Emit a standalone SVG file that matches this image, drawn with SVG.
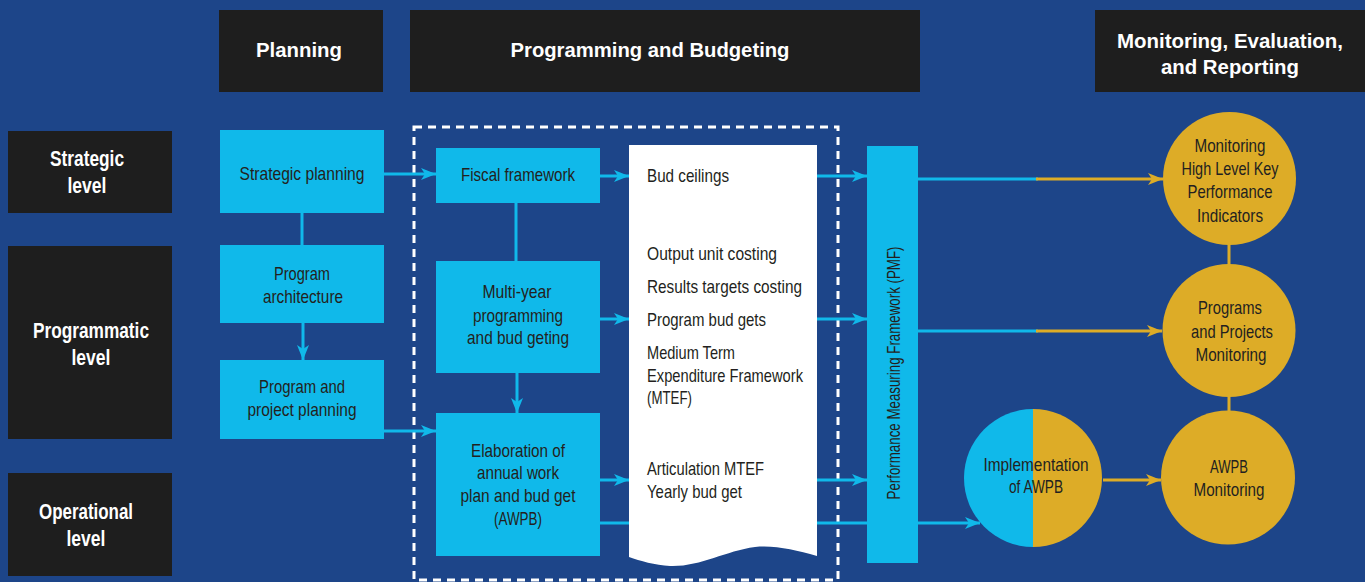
<svg xmlns="http://www.w3.org/2000/svg" width="1365" height="582" viewBox="0 0 1365 582">
<style>
.bg{fill:#1d4589}
.blk{fill:#1e1e1e}
.cy{fill:#10b9ea}
.gd{fill:#ddac27}
.t{font-family:"Liberation Sans",Arial,sans-serif;font-size:18.5px;fill:#231f20;text-anchor:middle}
.tl{font-family:"Liberation Sans",Arial,sans-serif;font-size:18.5px;fill:#231f20}
.h{font-family:"Liberation Sans",Arial,sans-serif;font-size:21px;font-weight:bold;fill:#ffffff;text-anchor:middle}
.lv{font-family:"Liberation Sans",Arial,sans-serif;font-size:21.5px;font-weight:bold;fill:#ffffff;text-anchor:middle}
.lc{stroke:#10b9ea;stroke-width:3;fill:none}
.lg{stroke:#ddac27;stroke-width:3;fill:none}
</style>
<defs>
<marker id="ac" markerUnits="userSpaceOnUse" markerWidth="16" markerHeight="12" refX="15" refY="6" orient="auto">
<path d="M0,0 L15,6 L0,12 L4,6 Z" fill="#10b9ea"/>
</marker>
<marker id="ag" markerUnits="userSpaceOnUse" markerWidth="16" markerHeight="12" refX="15" refY="6" orient="auto">
<path d="M0,0 L15,6 L0,12 L4,6 Z" fill="#ddac27"/>
</marker>
</defs>
<rect class="bg" x="0" y="0" width="1365" height="582"/>

<!-- headers -->
<g id="hdr-planning"><rect class="blk" x="219" y="10" width="164" height="82"/><text class="h" x="299" y="57" textLength="86" lengthAdjust="spacingAndGlyphs">Planning</text></g>
<g id="hdr-programming"><rect class="blk" x="410" y="10" width="510" height="82"/><text class="h" x="650" y="57" textLength="279" lengthAdjust="spacingAndGlyphs">Programming and Budgeting</text></g>
<g id="hdr-monitoring"><rect class="blk" x="1095" y="10" width="270" height="82"/><text class="h" x="1230" y="48" textLength="226" lengthAdjust="spacingAndGlyphs">Monitoring, Evaluation,</text><text class="h" x="1230" y="74" textLength="138" lengthAdjust="spacingAndGlyphs">and Reporting</text></g>

<!-- levels -->
<g id="lvl-strategic"><rect class="blk" x="8" y="131" width="164" height="82"/><text class="lv" x="87" y="166" textLength="74" lengthAdjust="spacingAndGlyphs">Strategic</text><text class="lv" x="87" y="193" textLength="39" lengthAdjust="spacingAndGlyphs">level</text></g>
<g id="lvl-programmatic"><rect class="blk" x="8" y="246" width="164" height="193"/><text class="lv" x="91" y="338" textLength="116" lengthAdjust="spacingAndGlyphs">Programmatic</text><text class="lv" x="91" y="365" textLength="39" lengthAdjust="spacingAndGlyphs">level</text></g>
<g id="lvl-operational"><rect class="blk" x="8" y="473" width="164" height="103"/><text class="lv" x="86" y="519" textLength="94" lengthAdjust="spacingAndGlyphs">Operational</text><text class="lv" x="86" y="546" textLength="39" lengthAdjust="spacingAndGlyphs">level</text></g>

<!-- dashed frame -->
<rect x="414" y="127" width="424" height="453" fill="none" stroke="#ffffff" stroke-width="3" stroke-dasharray="8 6"/>

<!-- connectors -->
<g id="connectors">
<line class="lc" x1="384" y1="174" x2="436" y2="174" marker-end="url(#ac)"/>
<line class="lc" x1="302" y1="213" x2="302" y2="245"/>
<line class="lc" x1="303" y1="323" x2="303" y2="360" marker-end="url(#ac)"/>
<line class="lc" x1="384" y1="431" x2="436" y2="431" marker-end="url(#ac)"/>
<line class="lc" x1="600" y1="176" x2="629" y2="176" marker-end="url(#ac)"/>
<line class="lc" x1="516" y1="203" x2="516" y2="261"/>
<line class="lc" x1="517" y1="373" x2="517" y2="413" marker-end="url(#ac)"/>
<line class="lc" x1="600" y1="319" x2="629" y2="319" marker-end="url(#ac)"/>
<line class="lc" x1="600" y1="480" x2="629" y2="480" marker-end="url(#ac)"/>
<line class="lc" x1="600" y1="523" x2="980" y2="523" marker-end="url(#ac)"/>
<line class="lc" x1="817" y1="176" x2="867" y2="176" marker-end="url(#ac)"/>
<line class="lc" x1="817" y1="319" x2="867" y2="319" marker-end="url(#ac)"/>
<line class="lc" x1="817" y1="480" x2="867" y2="480" marker-end="url(#ac)"/>
<line class="lc" x1="918" y1="179" x2="1038" y2="179"/>
<line class="lg" x1="1036" y1="179" x2="1163" y2="179" marker-end="url(#ag)"/>
<line class="lc" x1="918" y1="331" x2="1038" y2="331"/>
<line class="lg" x1="1036" y1="331" x2="1162" y2="331" marker-end="url(#ag)"/>
<line class="lg" x1="1103" y1="480" x2="1161" y2="480" marker-end="url(#ag)"/>
<line class="lg" x1="1229" y1="244" x2="1229" y2="265"/>
<line class="lg" x1="1229" y1="396" x2="1229" y2="412"/>
</g>

<!-- planning column -->
<g id="n-strategic-planning"><rect class="cy" x="220" y="130" width="164" height="83"/><text class="t" x="302" y="180" textLength="125" lengthAdjust="spacingAndGlyphs">Strategic planning</text></g>
<g id="n-program-architecture"><rect class="cy" x="220" y="245" width="164" height="78"/><text class="t" x="302" y="280" textLength="56" lengthAdjust="spacingAndGlyphs">Program</text><text class="t" x="303" y="303" textLength="80" lengthAdjust="spacingAndGlyphs">architecture</text></g>
<g id="n-program-project-planning"><rect class="cy" x="220" y="360" width="164" height="79"/><text class="t" x="302" y="393" textLength="86" lengthAdjust="spacingAndGlyphs">Program and</text><text class="t" x="302" y="416" textLength="109" lengthAdjust="spacingAndGlyphs">project planning</text></g>

<!-- programming column -->
<g id="n-fiscal"><rect class="cy" x="436" y="148" width="164" height="55"/><text class="t" x="518" y="181" textLength="114" lengthAdjust="spacingAndGlyphs">Fiscal framework</text></g>
<g id="n-multiyear"><rect class="cy" x="436" y="261" width="164" height="112"/><text class="t" x="517" y="298" textLength="69" lengthAdjust="spacingAndGlyphs">Multi-year</text><text class="t" x="518" y="322" textLength="90" lengthAdjust="spacingAndGlyphs">programming</text><text class="t" x="518" y="344" textLength="102" lengthAdjust="spacingAndGlyphs">and bud geting</text></g>
<g id="n-elaboration"><rect class="cy" x="436" y="413" width="164" height="143"/><text class="t" x="518" y="457" textLength="94" lengthAdjust="spacingAndGlyphs">Elaboration of</text><text class="t" x="518" y="479" textLength="82" lengthAdjust="spacingAndGlyphs">annual work</text><text class="t" x="518" y="502" textLength="115" lengthAdjust="spacingAndGlyphs">plan and bud get</text><text class="t" x="518" y="525" textLength="48" lengthAdjust="spacingAndGlyphs">(AWPB)</text></g>

<!-- document -->
<g id="n-document">
<path d="M629,145 H817 V556 C795,550 775,545 755,547 C725,551 700,567 670,566 C655,565 640,561 629,557 Z" fill="#ffffff"/>
<text class="tl" x="647" y="182" textLength="82" lengthAdjust="spacingAndGlyphs">Bud ceilings</text>
<text class="tl" x="647" y="260" textLength="130" lengthAdjust="spacingAndGlyphs">Output unit costing</text>
<text class="tl" x="647" y="293" textLength="155" lengthAdjust="spacingAndGlyphs">Results targets costing</text>
<text class="tl" x="647" y="326" textLength="119" lengthAdjust="spacingAndGlyphs">Program bud gets</text>
<text class="tl" x="647" y="359" textLength="88" lengthAdjust="spacingAndGlyphs">Medium Term</text>
<text class="tl" x="647" y="382" textLength="156" lengthAdjust="spacingAndGlyphs">Expenditure Framework</text>
<text class="tl" x="647" y="404" textLength="45" lengthAdjust="spacingAndGlyphs">(MTEF)</text>
<text class="tl" x="647" y="475" textLength="117" lengthAdjust="spacingAndGlyphs">Articulation MTEF</text>
<text class="tl" x="647" y="498" textLength="95" lengthAdjust="spacingAndGlyphs">Yearly bud get</text>
</g>

<!-- PMF -->
<g id="n-pmf"><rect class="cy" x="867" y="146" width="51" height="417"/><text class="t" transform="translate(900,373) rotate(-90)" x="0" y="0" textLength="253" lengthAdjust="spacingAndGlyphs">Performance Measuring Framework (PMF)</text></g>

<!-- circles -->
<g id="n-monitoring-kpi"><circle class="gd" cx="1229.5" cy="178.5" r="66.5"/><text class="t" x="1230" y="152" textLength="71" lengthAdjust="spacingAndGlyphs">Monitoring</text><text class="t" x="1230" y="175" textLength="97" lengthAdjust="spacingAndGlyphs">High Level Key</text><text class="t" x="1230" y="198" textLength="85" lengthAdjust="spacingAndGlyphs">Performance</text><text class="t" x="1230" y="222" textLength="66" lengthAdjust="spacingAndGlyphs">Indicators</text></g>
<g id="n-programs-monitoring"><circle class="gd" cx="1229" cy="330.5" r="66.5"/><text class="t" x="1230" y="314" textLength="64" lengthAdjust="spacingAndGlyphs">Programs</text><text class="t" x="1232" y="338" textLength="82" lengthAdjust="spacingAndGlyphs">and Projects</text><text class="t" x="1231" y="361" textLength="71" lengthAdjust="spacingAndGlyphs">Monitoring</text></g>
<g id="n-awpb-monitoring"><circle class="gd" cx="1228" cy="477.5" r="67"/><text class="t" x="1229" y="473" textLength="38" lengthAdjust="spacingAndGlyphs">AWPB</text><text class="t" x="1229" y="496" textLength="71" lengthAdjust="spacingAndGlyphs">Monitoring</text></g>
<g id="n-implementation">
<path d="M1033,409 A69,69 0 0 0 1033,547 Z" fill="#10b9ea"/>
<path d="M1033,409 A69,69 0 0 1 1033,547 Z" fill="#ddac27"/>
<text class="t" x="1036" y="471" textLength="105" lengthAdjust="spacingAndGlyphs">Implementation</text>
<text class="t" x="1036" y="493" textLength="54" lengthAdjust="spacingAndGlyphs">of AWPB</text>
</g>
</svg>
